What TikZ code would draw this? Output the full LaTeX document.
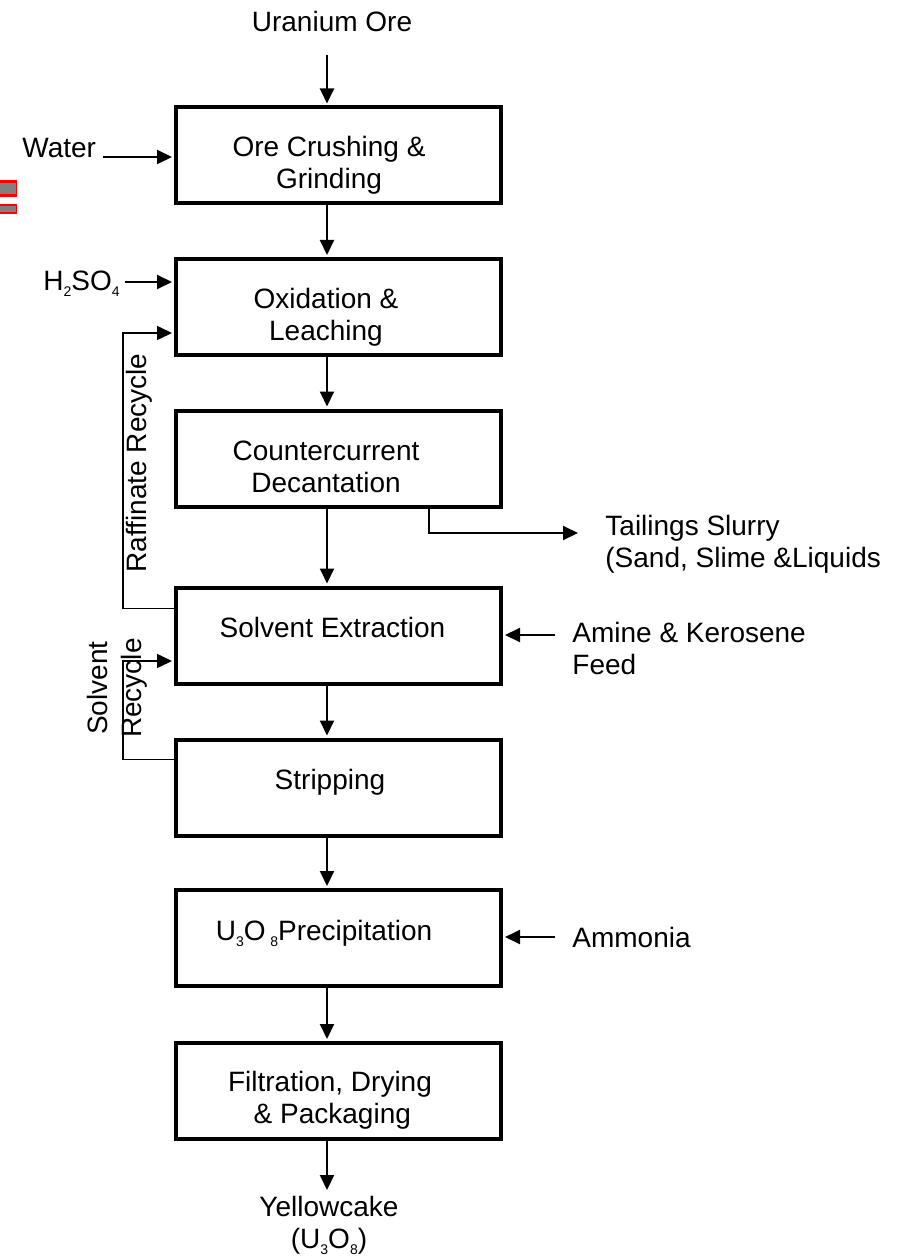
\documentclass[tikz,border=0pt]{standalone}
\usepackage{fontspec}
\setmainfont{Liberation Sans}
\usetikzlibrary{arrows.meta}
\newcommand{\lowdigit}[1]{\raisebox{-3pt}{\fontsize{7}{8}\selectfont #1}}

\begin{document}
\begin{tikzpicture}[x=0.5pt,y=-0.5pt,
        >={Triangle[length=7.5pt,width=7pt]},
        stage/.style={draw,line width=2pt,minimum width=162.5pt,minimum height=48pt,inner sep=0pt},
        stagetext/.style={align=center,inner sep=0pt,font=\fontsize{14}{16}\selectfont},
        note/.style={align=left,inner sep=0pt,font=\fontsize{14}{16}\selectfont},
        flow/.style={->,line width=1pt,shorten >=1pt},
        recycle/.style={->,line width=0.8pt,shorten >=1pt}]
        \useasboundingbox (0,0) rectangle (899,1257);
        % Draw stages
        \node[stage] (crush) at (338.5,155.5) {};
        \node[stage] (leach) at (338.5,307) {};
        \node[stage] (decant) at (338.5,458.5) {};
        \node[stage] (extract) at (338.5,635.5) {};
        \node[stage] (strip) at (338.5,787.5) {};
        \node[stage] (precip) at (338.5,938) {};
        \node[stage] (dry) at (338.5,1091) {};
        % Stage texts
        \node[stagetext] (crush-t) at (329,165) {Ore Crushing \&\\Grinding};
        \node[stagetext] (leach-t) at (326,317.5) {Oxidation \&\\Leaching};
        \node[stagetext] (decant-t) at (326,466.5) {Countercurrent\\Decantation};
        \node[stagetext] (extract-t) at (332.5,627) {Solvent Extraction};
        \node[stagetext] (strip-t) at (330,782.5) {Stripping};
        \node[stagetext] (precip-t) at (324,933) {U\lowdigit{3}O\,\lowdigit{8}Precipitation};
        \node[stagetext] (dry-t) at (330,1100.5) {Filtration, Drying\\\,\& Packaging};
        % Main flow
        \foreach \a/\b in {crush/leach, leach/decant, decant/extract, extract/strip, strip/precip, precip/dry} {
            \draw[flow] ([xshift=-5.75pt]\a.south) -- ([xshift=-5.75pt]\b.north);
        }
        % Ore in, yellowcake out
        \node[note] (ore) at (332,21) {Uranium Ore};
        \coordinate (ore-out) at (327,55);
        \draw[flow] (ore-out) -- (ore-out |- crush.north);
        \coordinate (cake-in) at (327,1190);
        \draw[flow,shorten >=0pt] ([xshift=-5.75pt]dry.south) -- (cake-in);
        \node[note,align=center,anchor=north] (cake) at (329,1196) {Yellowcake\\(U\lowdigit{3}O\lowdigit{8})};
        % Feeds
        \node[note,anchor=base west] (water) at (22,158) {Water};
        \coordinate (water-out) at (103,157);
        \draw[flow] (water-out) -- (water-out -| crush.west);
        \node[note,anchor=base east] (acid) at (120,290) {H\lowdigit{2}SO\lowdigit{4}};
        \coordinate (acid-out) at (125,282);
        \draw[flow] (acid-out) -- (acid-out -| leach.west);
        \node[note,anchor=north west] (amine) at (572,622) {Amine \& Kerosene\\Feed};
        \coordinate (amine-out) at (555,635);
        \draw[flow] (amine-out) -- (amine-out -| extract.east);
        \node[note,anchor=north west] (ammonia) at (572,927) {Ammonia};
        \coordinate (ammonia-out) at (555,937);
        \draw[flow] (ammonia-out) -- (ammonia-out -| precip.east);
        % Tailings
        \coordinate (tail-out) at (578,533);
        \draw[flow,shorten >=0pt] ([xshift=-37pt]decant.south east) |- (tail-out);
        \node[note,anchor=north west] (tail-t) at (605,515) {Tailings Slurry\\(Sand, Slime \&Liquids};
        % Recycle loops
        \draw[recycle] ([yshift=-11.5pt]extract.north west) -- ++(-51,0) |- ([yshift=-13pt]leach.west);
        \node[note,rotate=90] (raff-t) at (139,463) {Raffinate Recycle};
        \draw[recycle] ([yshift=-11pt]strip.north west) -- ++(-51,0) |- ([yshift=-12.75pt]extract.west);
        \node[note,align=center,rotate=90] (solv-t) at (117,688) {Solvent\\[1pt]Recycle};
        % Marker at left edge
        \fill[red] (0,180) rectangle (17,197);
        \fill[gray] (0,182.7) rectangle (16,194.3);
        \fill[red] (0,204) rectangle (17,213.7);
        \fill[gray] (0,206.3) rectangle (16,211.7);
    \end{tikzpicture}
\end{document}
